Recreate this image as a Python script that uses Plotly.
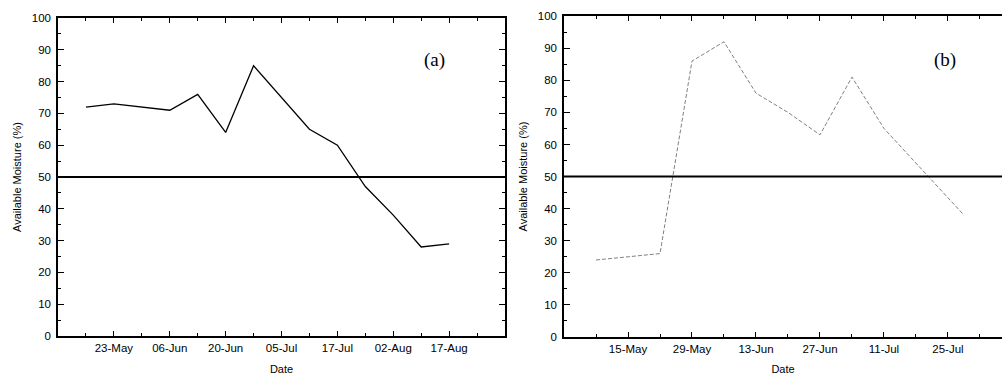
import plotly.graph_objects as go

# ---------------- data ----------------
# panel (a): category-style date axis, ticks at every position, labels every second one
a_tick_labels = ["", "23-May", "", "06-Jun", "", "20-Jun", "", "05-Jul", "", "17-Jul",
                 "", "02-Aug", "", "17-Aug", ""]
a_sample_pos = [0, 1, 3, 4, 5, 6, 8, 9, 10, 11, 12, 13]
a_moisture = [72, 73, 71, 76, 64, 85, 65, 60, 47, 38, 28, 29]

# panel (b)
b_tick_labels = ["", "15-May", "", "29-May", "", "13-Jun", "", "27-Jun", "", "11-Jul",
                 "", "25-Jul", ""]
b_sample_pos = [0, 1, 2, 3, 4, 5, 6, 7, 8, 9, 11.5]
b_moisture = [24, 25, 26, 86, 92, 76, 70, 63, 81, 65, 38]

threshold = 50
y_title = "Available Moisture (%)"
x_title = "Date"

FONT = "Liberation Sans, Arial, sans-serif"

fig = go.Figure()

fig.add_trace(go.Scatter(x=a_sample_pos, y=a_moisture, mode="lines",
                         line=dict(color="black", width=1.3),
                         xaxis="x", yaxis="y", showlegend=False))
fig.add_trace(go.Scatter(x=b_sample_pos, y=b_moisture, mode="lines",
                         line=dict(color="#808080", width=1, dash="4px,2px"),
                         xaxis="x2", yaxis="y2", showlegend=False))


def split_ticks(labels):
    major = [i for i, t in enumerate(labels) if t]
    minor = [i for i, t in enumerate(labels) if not t]
    return major, [labels[i] for i in major], minor


a_major, a_text, a_minor = split_ticks(a_tick_labels)
b_major, b_text, b_minor = split_ticks(b_tick_labels)

common_x = dict(showline=True, linecolor="black", linewidth=1.5, ticks="inside",
                ticklen=5, tickwidth=1.2, tickcolor="black", showgrid=False,
                zeroline=False, automargin=False,
                tickfont=dict(family=FONT, size=11.5, color="black"),
                title=dict(text=x_title, font=dict(family=FONT, size=11, color="black"),
                           standoff=13))
common_y = dict(showline=True, linecolor="black", linewidth=1.5, ticks="inside",
                ticklen=6, tickwidth=1.2, tickcolor="black", showgrid=False,
                zeroline=False, automargin=False, range=[0, 100], tickmode="linear",
                tick0=0, dtick=10, ticklabelstandoff=3,
                minor=dict(ticks="inside", ticklen=3, tickcolor="black", dtick=5,
                           tick0=0, showgrid=False),
                tickfont=dict(family=FONT, size=11.5, color="black"),
                title=dict(text=y_title, font=dict(family=FONT, size=11, color="black"),
                           standoff=8))

fig.update_layout(
    width=1002, height=375,
    margin=dict(l=0, r=0, t=0, b=0, autoexpand=False),
    paper_bgcolor="white", plot_bgcolor="white",
    xaxis=dict(domain=[0.0579, 0.504], range=[-1, 15], anchor="y", mirror="ticks",
               tickmode="array", tickvals=a_major, ticktext=a_text,
               minor=dict(ticks="inside", ticklen=3, tickcolor="black",
                          tickvals=a_minor, showgrid=False),
               **common_x),
    yaxis=dict(domain=[0.104, 0.952], anchor="x", mirror="ticks", **common_y),
    xaxis2=dict(domain=[0.5629, 1.0], range=[-1, 12.69], anchor="y2", mirror="ticks",
                tickmode="array", tickvals=b_major, ticktext=b_text,
                minor=dict(ticks="inside", ticklen=3, tickcolor="black",
                           tickvals=b_minor, showgrid=False),
                **common_x),
    yaxis2=dict(domain=[0.1013, 0.957], anchor="x2", mirror=False, **common_y),
    shapes=[
        dict(type="line", xref="x domain", yref="y", x0=0, x1=1, y0=threshold,
             y1=threshold, line=dict(color="black", width=2)),
        dict(type="line", xref="x2 domain", yref="y2", x0=0, x1=1, y0=threshold,
             y1=threshold, line=dict(color="black", width=2)),
    ],
    annotations=[
        dict(text="(a)", xref="x domain", yref="y domain", x=0.87, y=0.91,
             showarrow=False, font=dict(family="Liberation Serif, Times New Roman, serif",
                                        size=19, color="black")),
        dict(text="(b)", xref="x2 domain", yref="y2 domain", x=0.9, y=0.905,
             showarrow=False, font=dict(family="Liberation Serif, Times New Roman, serif",
                                        size=19, color="black")),
    ],
)

fig.write_html("out.html",
               config={"displayModeBar": False},
               post_script="document.body.style.margin='0';"
                           "document.body.style.padding='0';"
                           "document.body.style.overflow='hidden';")
